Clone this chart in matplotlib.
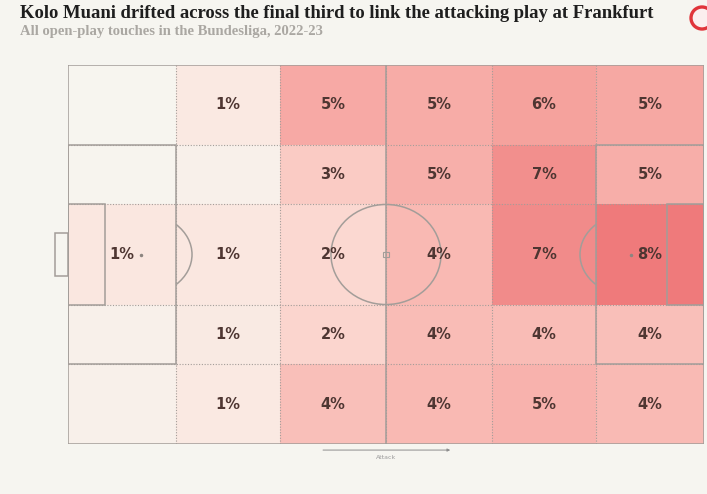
import matplotlib
matplotlib.use("Agg")
import matplotlib.pyplot as plt
import numpy as np
from matplotlib.colors import LinearSegmentedColormap
from matplotlib.patches import Rectangle, Arc, Ellipse, Circle

# zone edges in Opta pitch units (0-100 both ways, y from top)
col_edges = [0, 17, 33.3, 50, 66.7, 83, 100]
row_edges = [0, 21.1, 36.8, 63.2, 78.9, 100]

# share of touches per zone (%), rows top -> bottom, cols own goal -> attack
touch_share = [
    [0.05, 0.9, 5.2, 5.0, 5.8, 5.3],
    [0.1, 0.4, 3.0, 4.8, 6.8, 4.9],
    [1.0, 1.0, 2.0, 4.2, 7.0, 8.0],
    [0.4, 0.8, 2.2, 4.0, 4.0, 3.8],
    [0.4, 0.9, 3.8, 4.2, 4.6, 4.1],
]

title = "Kolo Muani drifted across the final third to link the attacking play at Frankfurt"
subtitle = "All open-play touches in the Bundesliga, 2022-23"

bg = "#f6f5f0"
line_col = "#a39d99"

stops = [
    (0.0, "#f7f5f0"),
    (1 / 8, "#fae7e0"),
    (2 / 8, "#fbd8d1"),
    (3 / 8, "#facbc4"),
    (4 / 8, "#f9bcb6"),
    (5 / 8, "#f7aca7"),
    (6 / 8, "#f59f9b"),
    (7 / 8, "#f18b8a"),
    (1.0, "#ef7a7b"),
]
cmap = LinearSegmentedColormap.from_list("touch", stops)

fig = plt.figure(figsize=(7.07, 4.94), dpi=100, facecolor=bg)
ax = fig.add_axes([68 / 707, 50 / 494, 636 / 707, 379 / 494])
ax.set_xlim(0, 100)
ax.set_ylim(100, 0)
ax.axis("off")

vals = np.array(touch_share)
for r in range(len(row_edges) - 1):
    for c in range(len(col_edges) - 1):
        x0, x1 = col_edges[c], col_edges[c + 1]
        y0, y1 = row_edges[r], row_edges[r + 1]
        v = vals[r, c]
        ax.add_patch(Rectangle((x0, y0), x1 - x0, y1 - y0,
                               facecolor=cmap(min(v / 8, 1)), edgecolor="none", zorder=1))
        if round(v) > 0:
            ax.text((x0 + x1) / 2, (y0 + y1) / 2, f"{round(v)}%", ha="center", va="center",
                    fontsize=10.5, fontweight="bold", color="#4e3632", zorder=5)

# dotted zone grid
for x in col_edges[1:-1]:
    ax.plot([x, x], [0, 100], color=line_col, lw=0.8, ls=(0, (1, 1.5)), zorder=2)
for y in row_edges[1:-1]:
    ax.plot([0, 100], [y, y], color=line_col, lw=0.8, ls=(0, (1, 1.5)), zorder=2)

# pitch markings
kw = dict(facecolor="none", edgecolor=line_col, lw=1.1, zorder=3)
ax.add_patch(Rectangle((0, 0), 100, 100, **kw))
ax.plot([50, 50], [0, 100], color=line_col, lw=1.1, zorder=3)
ax.add_patch(Rectangle((0, 21.1), 17, 57.8, **kw))
ax.add_patch(Rectangle((83, 21.1), 17, 57.8, **kw))
ax.add_patch(Rectangle((0, 36.8), 5.8, 26.4, **kw))
ax.add_patch(Rectangle((94.2, 36.8), 5.8, 26.4, **kw))
ax.add_patch(Rectangle((-2, 44.2), 2, 11.6, clip_on=False, **kw))
ax.add_patch(Ellipse((50, 50), 17.3, 26.4, **kw))
ax.add_patch(Arc((11.5, 50), 16.0, 21.8, theta1=-55.3, theta2=55.3,
                 edgecolor=line_col, lw=1.1, zorder=3))
ax.add_patch(Arc((88.5, 50), 16.0, 21.8, theta1=124.7, theta2=235.3,
                 edgecolor=line_col, lw=1.1, zorder=3))
ax.add_patch(Rectangle((49.6, 49.3), 0.8, 1.4, facecolor="none", edgecolor=line_col, lw=0.8, zorder=3))
ax.plot([11.5, 88.5], [50, 50], ls="none", marker="o", ms=1.5, color="#8c8580", zorder=3)

# attack direction
ax.annotate("", xy=(60.1, 101.6), xytext=(40.1, 101.6), annotation_clip=False,
            arrowprops=dict(arrowstyle="-|>", color="#8d8d8d", lw=0.7,
                            mutation_scale=4, shrinkA=0, shrinkB=0))
ax.text(50, 103.5, "Attack", ha="center", va="center", fontsize=4.5,
        color="#9a9a9a", clip_on=False)

fig.text(20 / 707, 1 - 13 / 494, title, ha="left", va="center",
         fontsize=13.4, fontweight="bold", family="Liberation Serif", color="#1e1e1e")
fig.text(20 / 707, 1 - 31 / 494, subtitle, ha="left", va="center",
         fontsize=10.5, fontweight="bold", family="Liberation Serif", color="#aaa7a2")

# club crest, cropped at the edge
fig.patches.append(Circle((702, 476), 11, transform=None,
                          facecolor="#fbeeee", edgecolor="#e0343a", lw=2.4))

fig.savefig("out.png", dpi=100, facecolor=bg)
